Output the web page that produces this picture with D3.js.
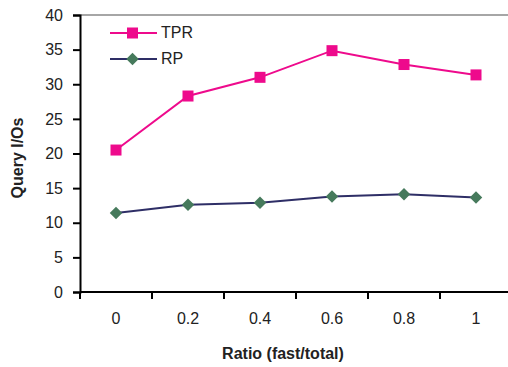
<!DOCTYPE html>
<html>
<head>
<meta charset="utf-8">
<script src="https://cdn.jsdelivr.net/npm/d3@7"></script>
<style>
  body { margin: 0; background: #fff; }
  text { font-family: "Liberation Sans", Arial, sans-serif; fill: #222; }
</style>
</head>
<body>
<script>
const ratios = ['0', '0.2', '0.4', '0.6', '0.8', '1'];
const tprValues = [20.5, 28.3, 31.0, 34.85, 32.85, 31.35];
const rpValues = [11.4, 12.6, 12.9, 13.8, 14.1, 13.65];
const yTicks = [0, 5, 10, 15, 20, 25, 30, 35, 40];

const width = 508, height = 367;
const margin = { top: 15, left: 80, bottom: 75 };
const plotRight = 512;

const svg = d3.select('body').append('svg')
    .attr('width', width)
    .attr('height', height);

// scales
const xScale = d3.scaleBand()
  .domain(ratios)
  .range([margin.left, plotRight]);
const yScale = d3.scaleLinear()
  .domain([0, 40])
  .range([height - margin.bottom, margin.top]);

// top border of plot area
svg.append('line')
    .attr('x1', margin.left).attr('x2', width)
    .attr('y1', yScale(40)).attr('y2', yScale(40))
    .attr('stroke', '#a6a6a6')
    .attr('stroke-width', 2);

// y axis
const yAxis = svg.append('g')
    .attr('transform', `translate(${margin.left},0)`)
    .call(d3.axisLeft(yScale).tickValues(yTicks).tickSize(7).tickPadding(10));
yAxis.select('.domain').attr('stroke', '#000').attr('stroke-width', 2);
yAxis.selectAll('.tick line').attr('stroke', '#000').attr('stroke-width', 2);
yAxis.selectAll('.tick text')
    .style('font-size', '16px')
    .attr('fill', '#222');

// x axis: ticks on category boundaries
const xAxisG = svg.append('g')
    .attr('transform', `translate(0,${yScale(0)})`);
xAxisG.append('line')
    .attr('x1', margin.left).attr('x2', width)
    .attr('stroke', '#000').attr('stroke-width', 2);
xAxisG.selectAll('.xtick')
    .data(ratios)
    .enter()
  .append('line')
    .attr('class', 'xtick')
    .attr('x1', d => xScale(d)).attr('x2', d => xScale(d))
    .attr('y1', 0).attr('y2', 7)
    .attr('stroke', '#000').attr('stroke-width', 2);
xAxisG.selectAll('.xlabel')
    .data(ratios)
    .enter()
  .append('text')
    .attr('class', 'xlabel')
    .attr('x', d => xScale(d) + xScale.bandwidth() / 2)
    .attr('y', 32)
    .attr('text-anchor', 'middle')
    .style('font-size', '16px')
    .text(d => d);

// axis titles
svg.append('text')
    .attr('x', 283)
    .attr('y', 359)
    .attr('text-anchor', 'middle')
    .style('font-size', '16px')
    .style('font-weight', 'bold')
    .text('Ratio (fast/total)');
svg.append('text')
    .attr('transform', 'translate(23,158) rotate(-90)')
    .attr('text-anchor', 'middle')
    .style('font-size', '16px')
    .style('font-weight', 'bold')
    .text('Query I/Os');

const cx = (d, i) => xScale(ratios[i]) + xScale.bandwidth() / 2;
const line = d3.line().x(cx).y(d => yScale(d));

// RP series
svg.append('path')
    .datum(rpValues)
    .attr('d', line)
    .attr('fill', 'none')
    .attr('stroke', '#2e2e66')
    .attr('stroke-width', 2);
svg.selectAll('.rp-pt')
    .data(rpValues)
    .enter()
  .append('path')
    .attr('class', 'rp-pt')
    .attr('d', d3.symbol(d3.symbolDiamond2, 100))
    .attr('transform', (d, i) => `translate(${cx(d, i)},${yScale(d)})`)
    .attr('fill', '#467a5c');

// TPR series
svg.append('path')
    .datum(tprValues)
    .attr('d', line)
    .attr('fill', 'none')
    .attr('stroke', '#ee0a8c')
    .attr('stroke-width', 2);
svg.selectAll('.tpr-pt')
    .data(tprValues)
    .enter()
  .append('rect')
    .attr('class', 'tpr-pt')
    .attr('x', (d, i) => cx(d, i) - 5.5)
    .attr('y', d => yScale(d) - 5.5)
    .attr('width', 11).attr('height', 11)
    .attr('fill', '#ee0a8c');

// legend
const legend = svg.append('g').attr('transform', 'translate(110,33)');
legend.append('line')
    .attr('x1', 0).attr('x2', 47)
    .attr('stroke', '#ee0a8c').attr('stroke-width', 2);
legend.append('rect')
    .attr('x', 17).attr('y', -5.5).attr('width', 11).attr('height', 11)
    .attr('fill', '#ee0a8c');
legend.append('text')
    .attr('x', 51).attr('y', 5)
    .style('font-size', '16px')
    .text('TPR');
legend.append('line')
    .attr('x1', 0).attr('x2', 47).attr('y1', 26).attr('y2', 26)
    .attr('stroke', '#2e2e66').attr('stroke-width', 2);
legend.append('path')
    .attr('d', d3.symbol(d3.symbolDiamond2, 100))
    .attr('transform', 'translate(22.5,26)')
    .attr('fill', '#467a5c');
legend.append('text')
    .attr('x', 51).attr('y', 31)
    .style('font-size', '16px')
    .text('RP');
</script>
</body>
</html>
